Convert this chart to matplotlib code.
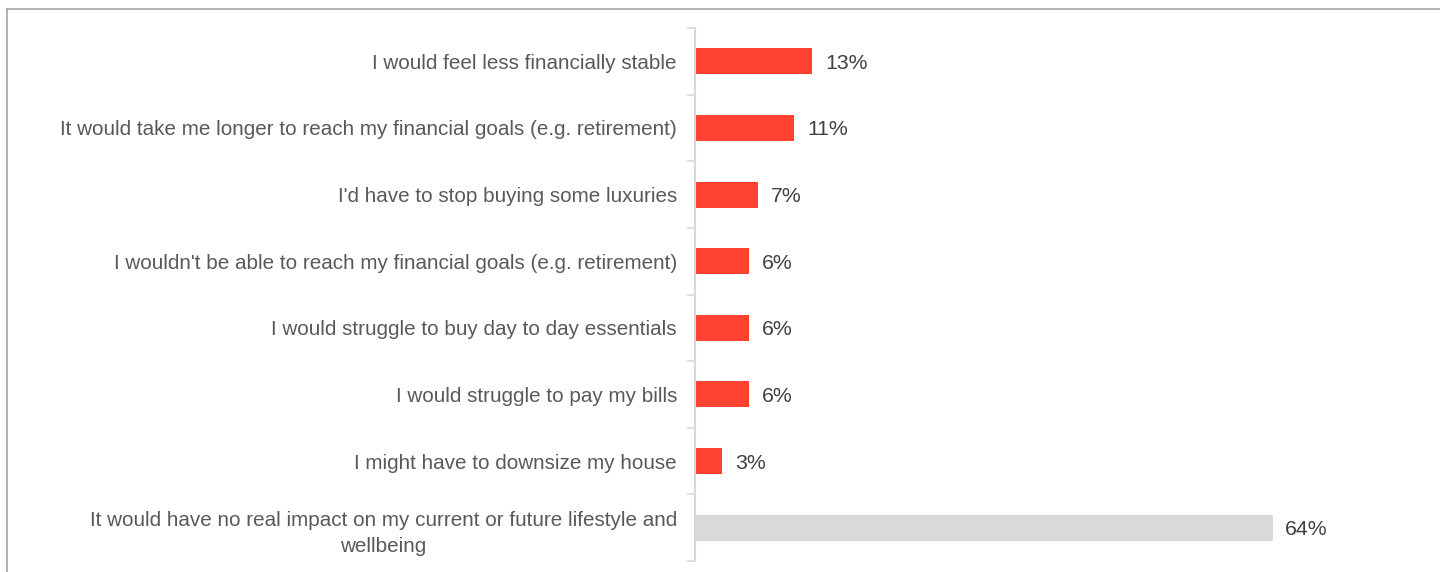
import matplotlib
matplotlib.use("Agg")
import matplotlib.pyplot as plt
from matplotlib.lines import Line2D

plt.rcParams['font.family'] = ['Liberation Sans', 'DejaVu Sans']

categories = [
    "I would feel less financially stable",
    "It would take me longer to reach my financial goals (e.g. retirement)",
    "I'd have to stop buying some luxuries",
    "I wouldn't be able to reach my financial goals (e.g. retirement)",
    "I would struggle to buy day to day essentials",
    "I would struggle to pay my bills",
    "I might have to downsize my house",
    "It would have no real impact on my current or future lifestyle and\nwellbeing",
]
values = [13, 11, 7, 6, 6, 6, 3, 64]
value_labels = ["13%", "11%", "7%", "6%", "6%", "6%", "3%", "64%"]

RED = '#FF4130'
GREY = '#D9D9D9'
TEXT = '#595959'
colors = [RED] * 7 + [GREY]

W, H = 1440, 572
fig = plt.figure(figsize=(W / 100, H / 100), dpi=100)
ax = fig.add_axes([695 / W, 11 / H, 722 / W, 533 / H])

y = list(range(len(categories)))
ax.barh(y, values, height=0.39, color=colors)
ax.set_ylim(len(categories) - 0.5, -0.5)
ax.set_xlim(0, 80)

for yi, v, lab in zip(y, values, value_labels):
    ax.text(v + 1.4, yi, lab, va='center_baseline', ha='left', fontsize=15.3, color='#404040')

ax.set_yticks(y)
ax.set_yticklabels(categories, fontsize=14.9, color=TEXT, multialignment='center',
                   linespacing=1.5)
ax.tick_params(axis='y', length=0, pad=13)
ax.set_yticks([i - 0.5 for i in range(len(categories) + 1)], minor=True)
ax.tick_params(axis='y', which='minor', length=6, color=GREY, width=1.2)
ax.set_xticks([])
for s in ['top', 'right', 'bottom']:
    ax.spines[s].set_visible(False)
ax.spines['left'].set_color(GREY)
ax.spines['left'].set_linewidth(1.5)

# outer frame (top and left)
fig.add_artist(Line2D([7 / W, 1.0], [1 - 9 / H, 1 - 9 / H], color='#A6A6A6', lw=1.2, transform=fig.transFigure))
fig.add_artist(Line2D([7 / W, 7 / W], [0, 1 - 9 / H], color='#A6A6A6', lw=1.2, transform=fig.transFigure))

fig.savefig('out.png', dpi=100, facecolor='white')
